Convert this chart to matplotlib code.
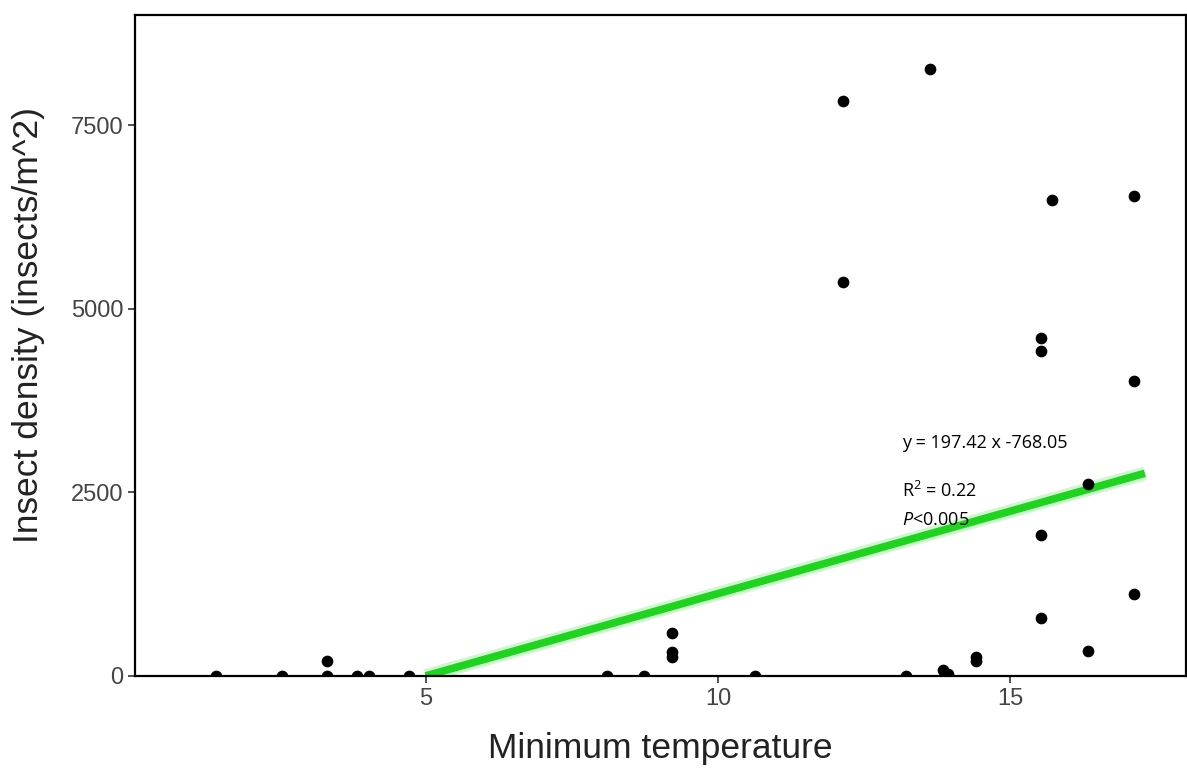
import numpy as np
import matplotlib.pyplot as plt

# ---- Data ----
min_temp = [1.41, 2.54, 3.31, 3.31, 3.82, 4.03, 4.71,
            8.11, 8.74, 9.22, 9.22, 9.22, 10.64,
            12.13, 12.13, 13.22, 13.63, 13.84, 13.94, 14.42, 14.42,
            15.53, 15.53, 15.53, 15.53, 15.72, 16.32, 16.32,
            17.12, 17.12, 17.12]
density = [0, 0, 0, 210, 0, 0, 0,
           0, 0, 580, 320, 260, 0,
           7830, 5370, 0, 8260, 80, 30, 260, 200,
           790, 1915, 4420, 4605, 6480, 340, 2610,
           1115, 4010, 6535]

# fitted line as drawn in the picture (start / end)
fit_x = [5.0, 17.3]
fit_y = [0, 2760]

eq_text = "y = 197.42 x -768.05"
r2_text = "R$^2$ = 0.22"
p_text = "$\\mathit{P}$<0.005"

plt.rcParams['mathtext.fontset'] = 'custom'
plt.rcParams['mathtext.it'] = 'Open Sans:italic'
plt.rcParams['mathtext.rm'] = 'Open Sans'

# ---- Figure ----
fig = plt.figure(figsize=(11.87, 7.69), dpi=100)
ax = fig.add_axes([0.1137, 0.121, 0.8853, 0.8595])

ax.scatter(min_temp, density, s=55, color='black', zorder=3, clip_on=True)
ax.plot(fit_x, fit_y, color='#7be87b', lw=10, alpha=0.35, solid_capstyle='butt', zorder=2)
ax.plot(fit_x, fit_y, color='#1ed41e', lw=5.5, solid_capstyle='butt', zorder=2)

ax.set_xlim(0.03, 18.0)
ax.set_ylim(0, 9000)
ax.set_xticks([5, 10, 15])
ax.set_yticks([0, 2500, 5000, 7500])

ax.tick_params(labelsize=17, colors='#333333', length=5, width=1.2, labelcolor='#444444')
for lab in ax.get_xticklabels() + ax.get_yticklabels():
    lab.set_family('Liberation Sans')

for s in ax.spines.values():
    s.set_linewidth(1.6)
    s.set_color('black')

ax.set_xlabel('Minimum temperature', fontsize=25.5, family='Liberation Sans',
              color='#222222', labelpad=16)
ax.set_ylabel('Insect density (insects/m^2)', fontsize=25.5, family='Liberation Sans',
              color='#222222')
ax.yaxis.set_label_coords(-0.086, 0.531)

ax.text(13.15, 3171, eq_text, fontsize=13, family='Open Sans', va='center', ha='left')
ax.text(13.15, 2518, r2_text, fontsize=13, family='Open Sans', va='center', ha='left')
ax.text(13.15, 2123, p_text, fontsize=13, family='Open Sans', va='center', ha='left')

fig.savefig('out.png', dpi=100)
